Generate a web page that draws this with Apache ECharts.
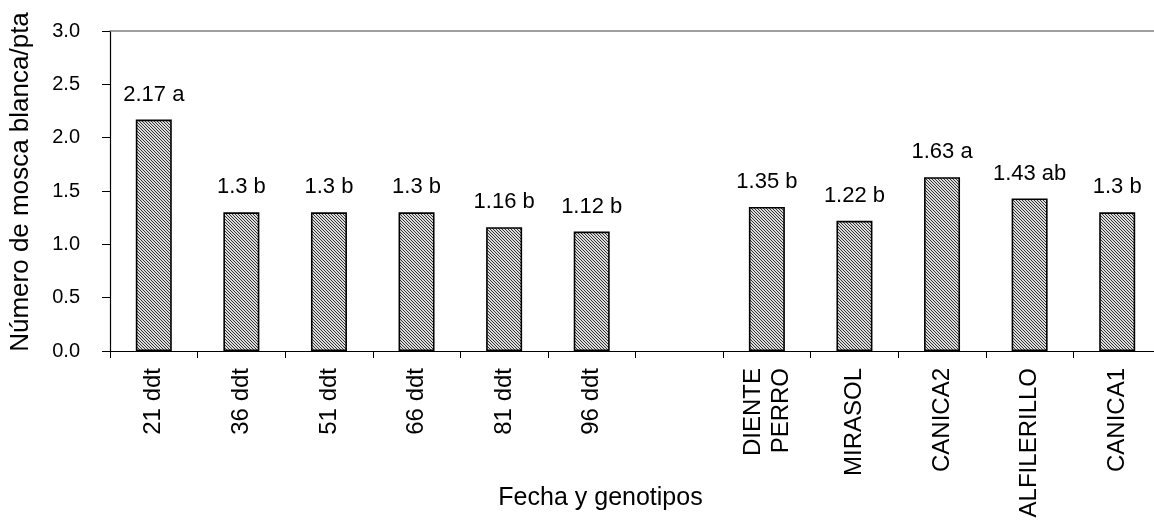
<!DOCTYPE html>
<html>
<head>
<meta charset="utf-8">
<script src="https://cdn.jsdelivr.net/npm/echarts@6/dist/echarts.min.js"></script>
<style>
html,body{margin:0;padding:0;background:#fff;}
#chart{width:1154px;height:522px;}
</style>
</head>
<body>
<div id="chart"></div>
<script>
// Data
const categories = ['21 ddt', '36 ddt', '51 ddt', '66 ddt', '81 ddt', '96 ddt', '', 'DIENTE\nPERRO', 'MIRASOL', 'CANICA2', 'ALFILERILLO', 'CANICA1'];
const values = [2.17, 1.3, 1.3, 1.3, 1.16, 1.12, null, 1.35, 1.22, 1.63, 1.43, 1.3];
const letters = ['a', 'b', 'b', 'b', 'b', 'b', '', 'b', 'b', 'a', 'ab', 'b'];
const yTicks = [0, 0.5, 1.0, 1.5, 2.0, 2.5, 3.0];
const xTitle = 'Fecha y genotipos';
const yTitle = 'Número de mosca blanca/pta';

// hatch pattern
const pc = document.createElement('canvas');
pc.width = 3; pc.height = 3;
const pctx = pc.getContext('2d');
pctx.fillStyle = '#dcdcdc';
pctx.fillRect(0, 0, 3, 3);
pctx.fillStyle = '#333333';
for (let y = 0; y < 3; y++) {
  pctx.fillRect(y % 3, y, 1, 1);
}

const FONT = 'Liberation Sans, Arial, sans-serif';
const chart = echarts.init(document.getElementById('chart'), null, {renderer: 'canvas'});
chart.setOption({
  animation: false,
  backgroundColor: '#fff',
  grid: {left: 110, right: -7, top: 31, bottom: 171, containLabel: false, outerBoundsMode: 'none'},
  xAxis: [{
    type: 'category',
    data: categories,
    position: 'bottom',
    axisLine: {show: true, lineStyle: {color: '#000', width: 1.2}},
    axisTick: {show: true, length: 7, inside: false, lineStyle: {color: '#000', width: 1}},
    axisLabel: {rotate: 90, margin: 17, fontSize: 24, color: '#000', fontFamily: FONT, interval: 0, lineHeight: 28},
    name: xTitle,
    nameLocation: 'middle',
    nameGap: 135,
    nameMoveOverlap: false,
    nameTextStyle: {fontSize: 25, color: '#000', fontFamily: FONT, padding: [0, 70, 0, 0]},
    splitLine: {show: false}
  }, {
    type: 'category',
    data: categories,
    position: 'top',
    axisLine: {show: true, lineStyle: {color: '#808080', width: 1.5}},
    axisTick: {show: false},
    axisLabel: {show: false},
    splitLine: {show: false}
  }],
  yAxis: {
    type: 'value',
    min: yTicks[0],
    max: yTicks[yTicks.length - 1],
    interval: 0.5,
    axisLine: {show: true, lineStyle: {color: '#000', width: 1.2}},
    axisTick: {show: true, length: 8, lineStyle: {color: '#000', width: 1}},
    axisLabel: {margin: 30, fontSize: 20, color: '#000', fontFamily: FONT, formatter: v => v.toFixed(1)},
    splitLine: {show: false},
    name: yTitle,
    nameLocation: 'middle',
    nameRotate: 90,
    nameGap: 76,
    nameMoveOverlap: false,
    nameTextStyle: {fontSize: 26, color: '#000', fontFamily: FONT, padding: [0, 0, 0, 18]}
  },
  series: [{
    type: 'bar',
    xAxisIndex: 0,
    data: values,
    barWidth: 36,
    itemStyle: {
      color: {image: pc, repeat: 'repeat'},
      borderColor: '#000',
      borderWidth: 1.6
    },
    label: {
      show: true,
      position: 'top',
      distance: 14,
      fontSize: 22,
      color: '#000',
      fontFamily: FONT,
      formatter: p => p.value == null ? '' : (p.value + ' ' + letters[p.dataIndex])
    }
  }]
});
</script>
</body>
</html>
